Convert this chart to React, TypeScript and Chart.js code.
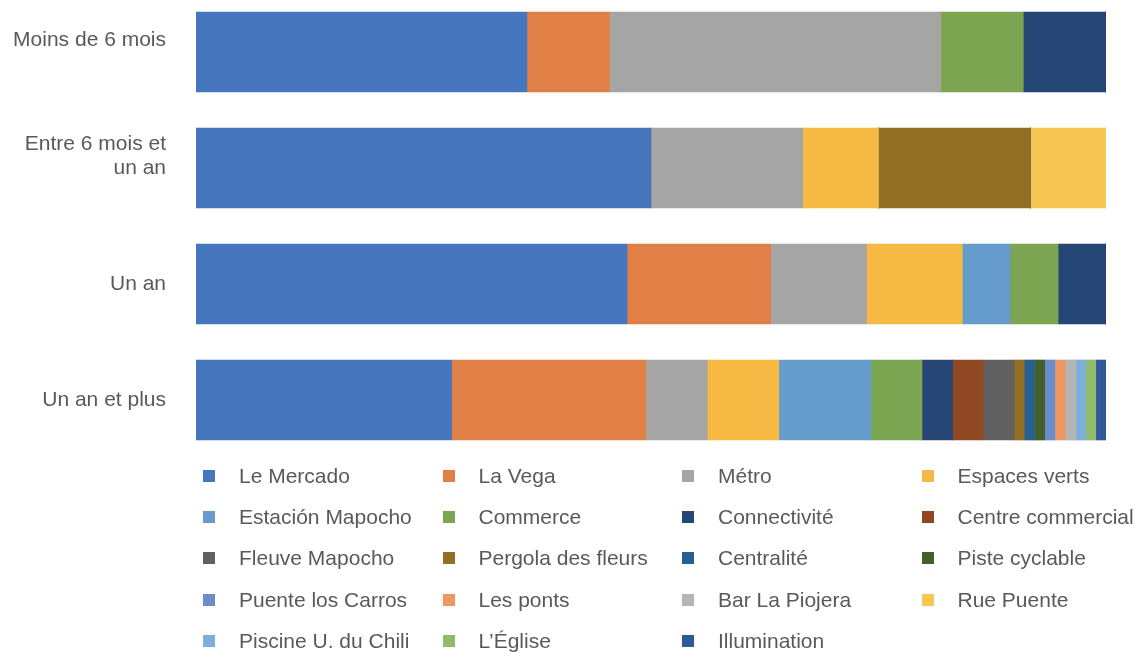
import React, { useEffect, useRef } from "react";
import { Chart, registerables } from "chart.js";

Chart.register(...registerables);

const categories: string[][] = [
  ["Moins de 6 mois"],
  ["Entre 6 mois et", "un an"],
  ["Un an"],
  ["Un an et plus"],
];

const seriesNames: string[] = [
  "Le Mercado",
  "La Vega",
  "Métro",
  "Espaces verts",
  "Estación Mapocho",
  "Commerce",
  "Connectivité",
  "Centre commercial",
  "Fleuve Mapocho",
  "Pergola des fleurs",
  "Centralité",
  "Piste cyclable",
  "Puente los Carros",
  "Les ponts",
  "Bar La Piojera",
  "Rue Puente",
  "Piscine U. du Chili",
  "L’Église",
  "Illumination",
];

// counts per category: [Moins de 6 mois, Entre 6 mois et un an, Un an, Un an et plus]
const leMercado = [4, 6, 9, 25];
const laVega = [1, 0, 3, 19];
const metro = [4, 2, 2, 6];
const espacesVerts = [0, 1, 2, 7];
const estacionMapocho = [0, 0, 1, 9];
const commerce = [1, 0, 1, 5];
const connectivite = [1, 0, 1, 3];
const centreCommercial = [0, 0, 0, 3];
const fleuveMapocho = [0, 0, 0, 3];
const pergola = [0, 2, 0, 1];
const centralite = [0, 0, 0, 1];
const pisteCyclable = [0, 0, 0, 1];
const puenteLosCarros = [0, 0, 0, 1];
const lesPonts = [0, 0, 0, 1];
const barLaPiojera = [0, 0, 0, 1];
const ruePuente = [0, 1, 0, 0];
const piscine = [0, 0, 0, 1];
const eglise = [0, 0, 0, 1];
const illumination = [0, 0, 0, 1];

const seriesValues: number[][] = [
  leMercado,
  laVega,
  metro,
  espacesVerts,
  estacionMapocho,
  commerce,
  connectivite,
  centreCommercial,
  fleuveMapocho,
  pergola,
  centralite,
  pisteCyclable,
  puenteLosCarros,
  lesPonts,
  barLaPiojera,
  ruePuente,
  piscine,
  eglise,
  illumination,
];

const colors: string[] = [
  "#4677BE",
  "#E07F46",
  "#A5A5A5",
  "#F6B943",
  "#659CCC",
  "#7BA550",
  "#264675",
  "#904822",
  "#606060",
  "#917023",
  "#285F91",
  "#45602A",
  "#6C8DCC",
  "#EE985F",
  "#B5B5B5",
  "#F7C653",
  "#7EAFDC",
  "#8FBC68",
  "#2F5799",
];

const FONT = "'Liberation Sans', Arial, Helvetica, sans-serif";
const TEXT_COLOR = "#595959";

export default function App() {
  const canvasRef = useRef<HTMLCanvasElement | null>(null);

  useEffect(() => {
    if (!canvasRef.current) return;
    const totals = categories.map((_, ci) =>
      seriesValues.reduce((s, arr) => s + arr[ci], 0)
    );
    const datasets = seriesNames.map((name, si) => ({
      label: name,
      data: seriesValues[si].map((v, ci) => (v / totals[ci]) * 100),
      backgroundColor: colors[si],
      borderWidth: 0,
      barThickness: 80,
    }));

    const chart = new Chart(canvasRef.current, {
      type: "bar",
      data: { labels: categories as any, datasets },
      options: {
        indexAxis: "y",
        animation: false,
        responsive: true,
        maintainAspectRatio: false,
        layout: { padding: { left: 0, right: 30, top: 0, bottom: 0 } },
        plugins: {
          legend: { display: false },
          tooltip: { enabled: false },
        },
        scales: {
          x: {
            stacked: true,
            min: 0,
            max: 100,
            display: false,
          },
          y: {
            stacked: true,
            grid: { display: false, drawTicks: false },
            border: { display: false },
            afterFit: (scale: any) => {
              scale.width = 196;
              scale.paddingTop = 0;
              scale.paddingBottom = 0;
            },
            ticks: {
              padding: 30,
              color: TEXT_COLOR,
              font: { family: FONT, size: 21, lineHeight: 1.15 },
              callback: function (this: any, _v: any, i: number) {
                const lab = categories[i];
                if (i === 0) return [...lab, ""];
                if (i === 1) return [...lab, ""];
                return lab;
              },
            },
          },
        },
      },
    });
    return () => chart.destroy();
  }, []);

  return (
    <div
      style={{
        position: "absolute",
        left: 0,
        top: 0,
        width: 1136,
        height: 652,
        overflow: "hidden",
        background: "#ffffff",
        fontFamily: FONT,
      }}
    >
      <div
        style={{
          position: "absolute",
          left: 0,
          top: -6,
          width: 1136,
          height: 464,
        }}
      >
        <canvas ref={canvasRef} />
      </div>
      <div
        style={{
          position: "absolute",
          left: 203,
          top: 455,
          width: 960,
          display: "flex",
          flexWrap: "wrap",
        }}
      >
        {seriesNames.map((name, i) => (
          <div
            key={name}
            style={{
              width: 239.5,
              height: 41.3,
              display: "flex",
              alignItems: "center",
              whiteSpace: "nowrap",
            }}
          >
            <span
              style={{
                display: "inline-block",
                width: 12,
                height: 12,
                background: colors[i],
                marginRight: 24,
                flex: "0 0 auto",
              }}
            />
            <span style={{ fontSize: 21, color: TEXT_COLOR, lineHeight: "24px" }}>
              {name}
            </span>
          </div>
        ))}
      </div>
    </div>
  );
}
